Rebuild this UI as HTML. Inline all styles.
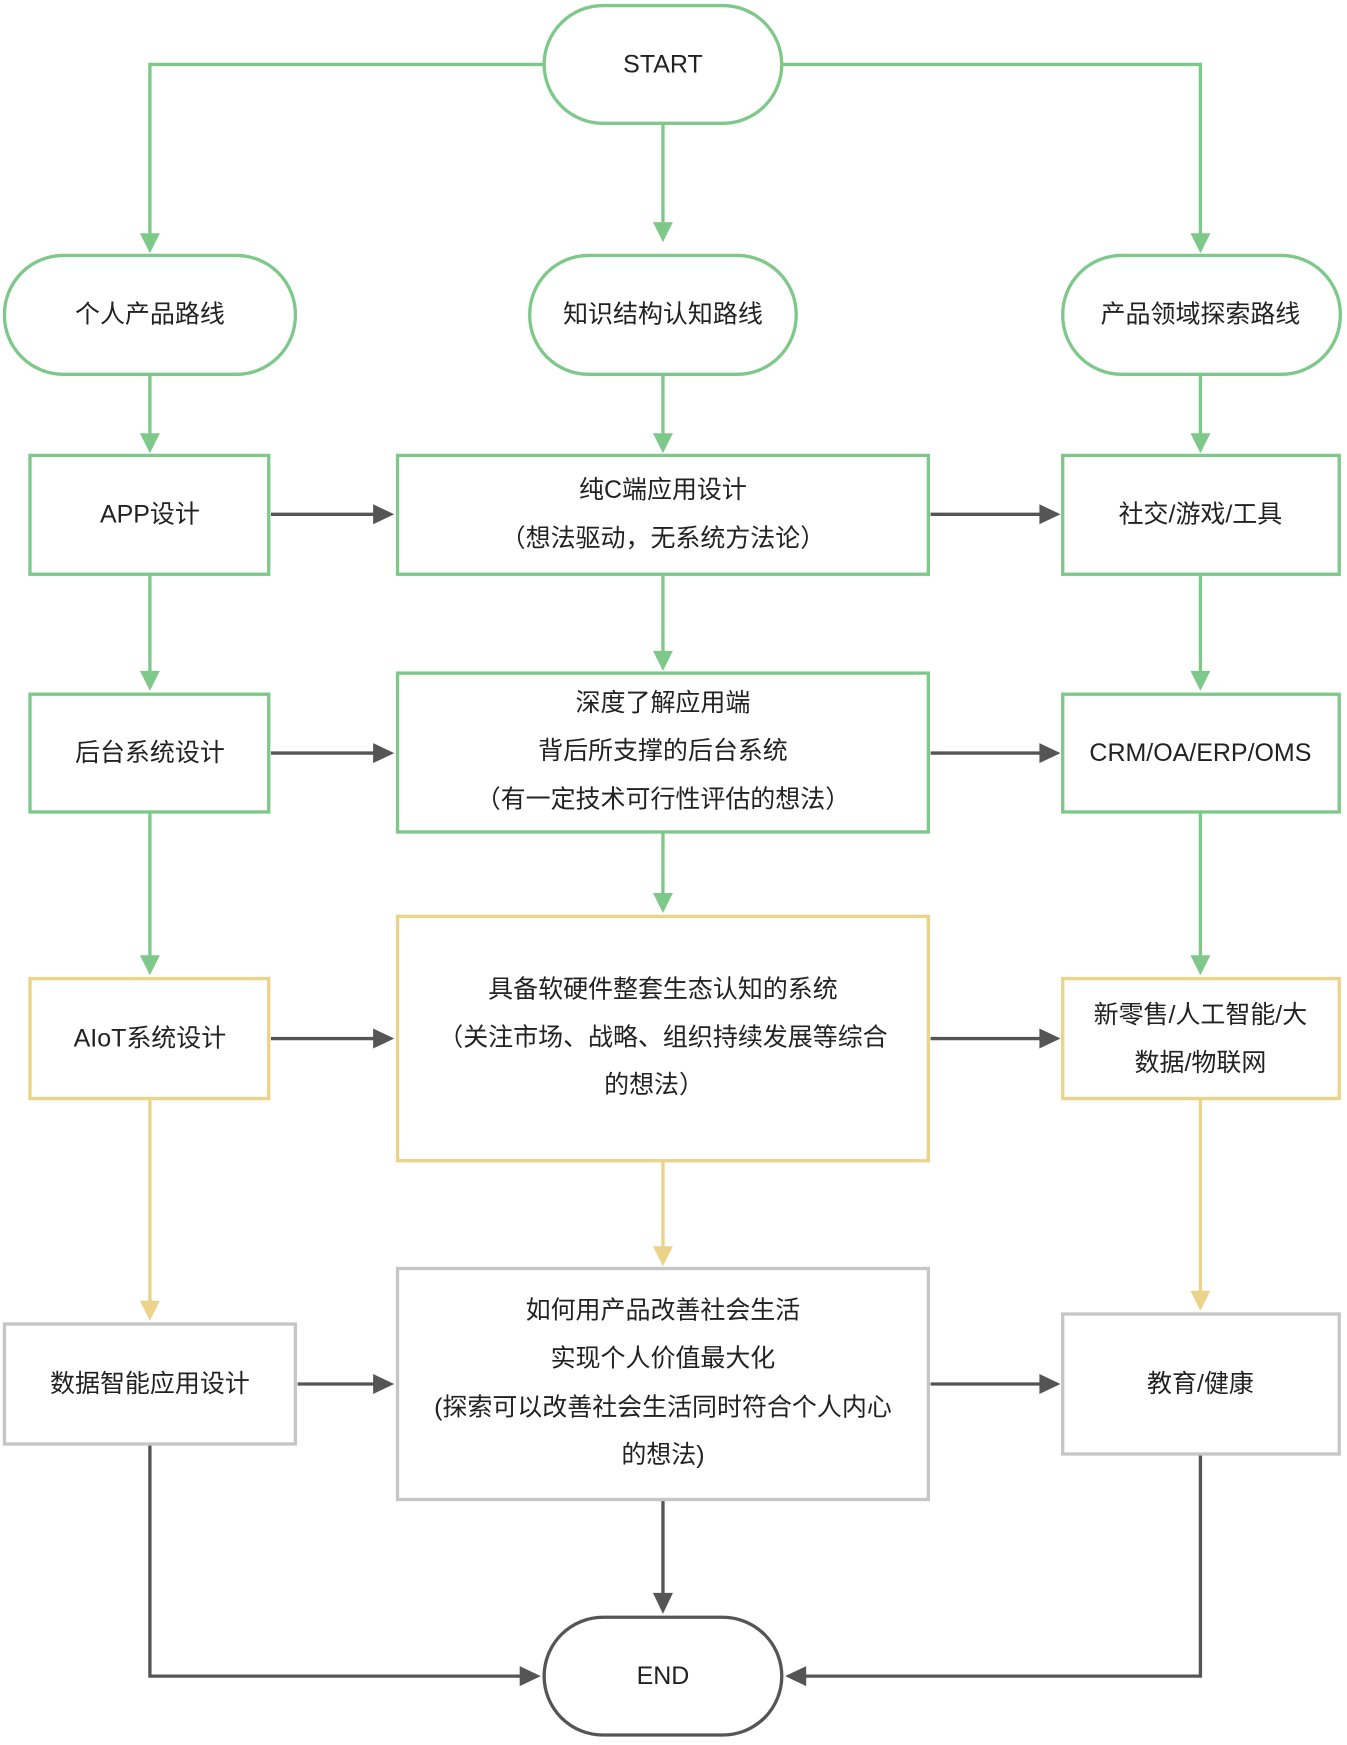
<!DOCTYPE html>
<html><head><meta charset="utf-8"><style>
html,body{margin:0;padding:0;background:#fff;}
svg{display:block;}
text{font-family:"Liberation Sans","Noto Sans CJK SC",sans-serif;font-size:22.5px;fill:#222;text-anchor:middle;dominant-baseline:central;}
</style></head><body>
<svg width="1347" height="1745" viewBox="0 0 1213 1571" preserveAspectRatio="none" xmlns="http://www.w3.org/2000/svg">
<defs>
<marker id="g" markerWidth="10" markerHeight="10" refX="8" refY="5" orient="auto" markerUnits="userSpaceOnUse"><path d="M0,0 L10,5 L0,10z" fill="#7ec88a" transform="scale(1.8) translate(-4.4,-2.2)"/></marker>
</defs>
<g fill="none" stroke-width="3">
<!-- green connectors -->
<g stroke="#7ec88a">
<path d="M490,58 H135 V212"/>
<path d="M704,58 H1081 V212"/>
<path d="M597,111 V200"/>
<path d="M135,337 V392"/><path d="M597,337 V392"/><path d="M1081,337 V392"/>
<path d="M135,517 V606"/><path d="M597,517 V588"/><path d="M1081,517 V606"/>
<path d="M135,731 V862"/><path d="M597,749 V806"/><path d="M1081,731 V862"/>
</g>
<g stroke="#ebd38a">
<path d="M135,989 V1173"/><path d="M597,1045 V1124"/><path d="M1081,989 V1164"/>
</g>
<g stroke="#555">
<path d="M244,463 H338"/><path d="M838,463 H938"/>
<path d="M244,678 H338"/><path d="M838,678 H938"/>
<path d="M244,935 H338"/><path d="M838,935 H938"/>
<path d="M268,1246 H338"/><path d="M838,1246 H938"/>
<path d="M597,1350 V1436"/>
<path d="M135,1300 V1509 H470"/>
<path d="M1081,1309 V1509 H724"/>
</g>
</g>
<!-- arrowheads -->
<g fill="#7ec88a">
<path d="M126,210 L144,210 L135,228z"/><path d="M1072,210 L1090,210 L1081,228z"/><path d="M588,200 L606,200 L597,218z"/>
<path d="M126,390 L144,390 L135,408z"/><path d="M588,390 L606,390 L597,408z"/><path d="M1072,390 L1090,390 L1081,408z"/>
<path d="M126,604 L144,604 L135,622z"/><path d="M588,586 L606,586 L597,604z"/><path d="M1072,604 L1090,604 L1081,622z"/>
<path d="M126,860 L144,860 L135,878z"/><path d="M588,804 L606,804 L597,822z"/><path d="M1072,860 L1090,860 L1081,878z"/>
</g>
<g fill="#ebd38a">
<path d="M126,1171 L144,1171 L135,1189z"/><path d="M588,1122 L606,1122 L597,1140z"/><path d="M1072,1162 L1090,1162 L1081,1180z"/>
</g>
<g fill="#555">
<path d="M336,454 L336,472 L355,463z"/><path d="M936,454 L936,472 L955,463z"/>
<path d="M336,669 L336,687 L355,678z"/><path d="M936,669 L936,687 L955,678z"/>
<path d="M336,926 L336,944 L355,935z"/><path d="M936,926 L936,944 L955,935z"/>
<path d="M336,1237 L336,1255 L355,1246z"/><path d="M936,1237 L936,1255 L955,1246z"/>
<path d="M588,1434 L606,1434 L597,1453z"/>
<path d="M468,1500 L468,1518 L487,1509z"/><path d="M726,1500 L726,1518 L707,1509z"/>
</g>
<!-- nodes -->
<g fill="#fff" stroke-width="3">
<rect x="490" y="5" width="214" height="106" rx="53" stroke="#7ec88a"/>
<rect x="4" y="230" width="262" height="107" rx="53" stroke="#7ec88a"/>
<rect x="477" y="230" width="240" height="107" rx="53" stroke="#7ec88a"/>
<rect x="957" y="230" width="250" height="107" rx="53" stroke="#7ec88a"/>
<rect x="27" y="410" width="215" height="107" stroke="#7ec88a"/>
<rect x="358" y="410" width="478" height="107" stroke="#7ec88a"/>
<rect x="957" y="410" width="249" height="107" stroke="#7ec88a"/>
<rect x="27" y="625" width="215" height="106" stroke="#7ec88a"/>
<rect x="358" y="606" width="478" height="143" stroke="#7ec88a"/>
<rect x="957" y="625" width="249" height="106" stroke="#7ec88a"/>
<rect x="27" y="881" width="215" height="108" stroke="#ebd38a"/>
<rect x="358" y="825" width="478" height="220" stroke="#ebd38a"/>
<rect x="957" y="881" width="249" height="108" stroke="#ebd38a"/>
<rect x="4" y="1192" width="262" height="108" stroke="#c6c6c6"/>
<rect x="358" y="1142" width="478" height="208" stroke="#c6c6c6"/>
<rect x="957" y="1183" width="249" height="126" stroke="#c6c6c6"/>
<rect x="490" y="1456" width="214" height="106" rx="53" stroke="#555"/>
</g>
<!-- labels -->
<text x="597" y="58">START</text>
<text x="135" y="283">个人产品路线</text>
<text x="597" y="283">知识结构认知路线</text>
<text x="1081" y="283">产品领域探索路线</text>
<text x="135" y="463">APP设计</text>
<text x="597" y="441">纯C端应用设计</text>
<text x="597" y="485">（想法驱动，无系统方法论）</text>
<text x="1081" y="463">社交/游戏/工具</text>
<text x="135" y="678">后台系统设计</text>
<text x="597" y="633">深度了解应用端</text>
<text x="597" y="676">背后所支撑的后台系统</text>
<text x="597" y="720">（有一定技术可行性评估的想法）</text>
<text x="1081" y="678">CRM/OA/ERP/OMS</text>
<text x="135" y="935">AIoT系统设计</text>
<text x="597" y="891">具备软硬件整套生态认知的系统</text>
<text x="597" y="934">（关注市场、战略、组织持续发展等综合</text>
<text x="589" y="977">的想法）</text>
<text x="1081" y="914">新零售/人工智能/大</text>
<text x="1081" y="957">数据/物联网</text>
<text x="135" y="1246">数据智能应用设计</text>
<text x="597" y="1180">如何用产品改善社会生活</text>
<text x="597" y="1223">实现个人价值最大化</text>
<text x="597" y="1267">(探索可以改善社会生活同时符合个人内心</text>
<text x="597" y="1310">的想法)</text>
<text x="1081" y="1246">教育/健康</text>
<text x="597" y="1509">END</text>
</svg>
</body></html>
